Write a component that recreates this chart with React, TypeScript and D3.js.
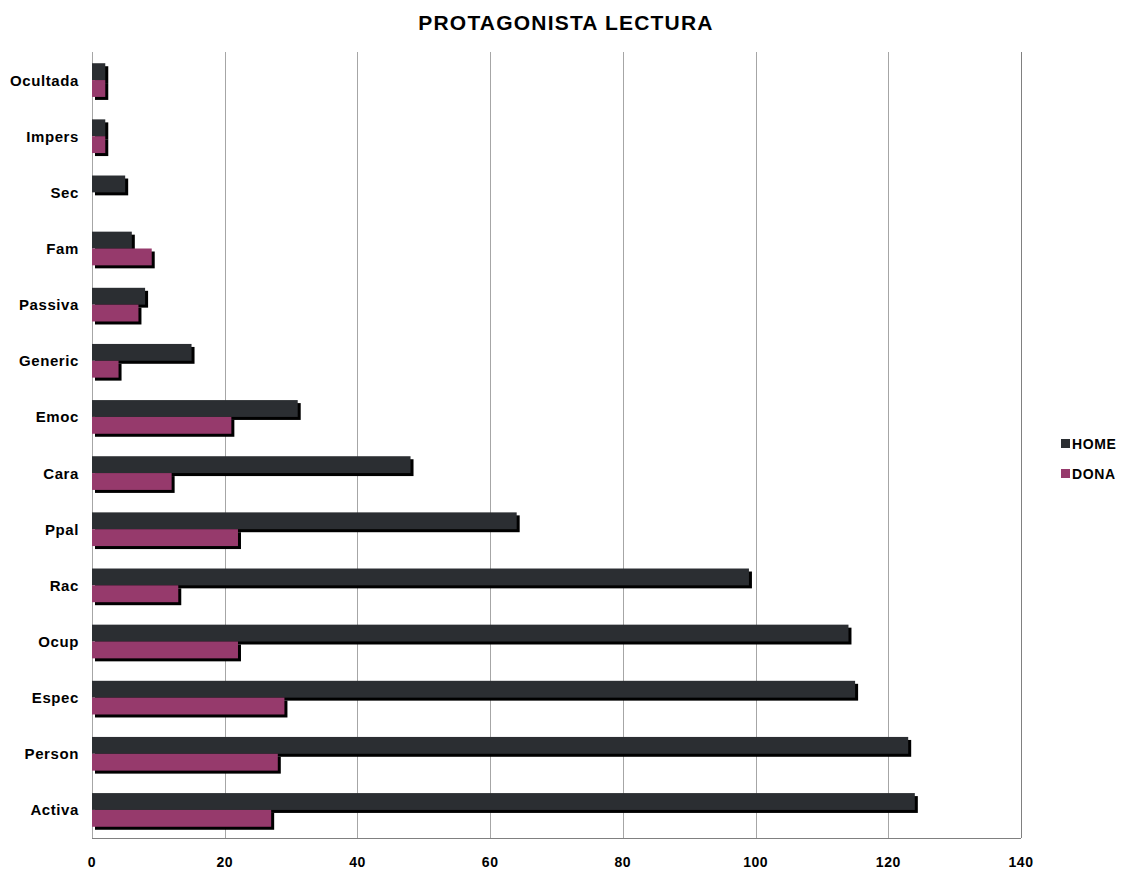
import React from "react";
import * as d3 from "d3";

const categories = ["Ocultada", "Impers", "Sec", "Fam", "Passiva", "Generic", "Emoc", "Cara", "Ppal", "Rac", "Ocup", "Espec", "Person", "Activa"];
const homeValues = [2, 2, 5, 6, 8, 15, 31, 48, 64, 99, 114, 115, 123, 124];
const donaValues = [2, 2, 0, 9, 7, 4, 21, 12, 22, 13, 22, 29, 28, 27];
const xTicks = [0, 20, 40, 60, 80, 100, 120, 140];
const seriesNames = ["HOME", "DONA"];
const seriesColors = ["#2b2e32", "#963a6c"];

const W = 1124;
const H = 871;
const left = 92;
const right = 1021;
const top = 52;
const bottom = 838;
const font = "'Liberation Sans', Arial, sans-serif";

export default function App() {
  const x = d3.scaleLinear().domain([0, 140]).range([left, right]);
  const y = d3.scaleBand().domain(categories).range([top, bottom]).paddingInner(0).paddingOuter(0);
  const bw = y.bandwidth();
  const barH = bw * 0.3;
  const sub = d3.scaleBand().domain(seriesNames).range([0, barH * 2]);
  const series = [homeValues, donaValues];
  const off = 3;

  return (
    <svg width={W} height={H} style={{ position: "absolute", left: 0, top: 0, background: "#fff" }}>
      <text x={566} y={30} textAnchor="middle" fontFamily={font} fontWeight="bold" fontSize={21} letterSpacing={1.2} fill="#000">
        PROTAGONISTA LECTURA
      </text>
      {xTicks.slice(1).map((t) => (
        <line key={t} x1={Math.round(x(t)) + 0.5} x2={Math.round(x(t)) + 0.5} y1={top} y2={bottom} stroke={t === 140 ? "#808080" : "#a6a6a6"} strokeWidth={1} />
      ))}
      <line x1={left} x2={right} y1={bottom + 0.5} y2={bottom + 0.5} stroke="#808080" />
      <line x1={left + 0.5} x2={left + 0.5} y1={top} y2={bottom} stroke="#a6a6a6" />
      {categories.map((c, i) => {
        const c0 = (y(c) as number) + bw / 2 - barH;
        return (
          <g key={c}>
            {series.map((vals, s) => {
              const yy = c0 + (sub(seriesNames[s]) as number);
              const w = x(vals[i]) - x(0);
              if (vals[i] <= 0) return null;
              return (
                <g key={s}>
                  <rect x={x(0) + off} y={yy + off} width={w} height={barH} fill="#000" />
                  <rect x={x(0)} y={yy} width={w} height={barH} fill={seriesColors[s]} />
                </g>
              );
            })}
            <text x={79} y={(y(c) as number) + bw / 2 + 5.5} textAnchor="end" fontFamily={font} fontWeight="bold" fontSize={15} letterSpacing={0.6} fill="#000">
              {c}
            </text>
          </g>
        );
      })}
      {xTicks.map((t) => (
        <text key={t} x={x(t)} y={867} textAnchor="middle" fontFamily={font} fontWeight="bold" fontSize={14} letterSpacing={0.5} fill="#000">
          {t}
        </text>
      ))}
      {seriesNames.map((n, i) => (
        <g key={n}>
          <rect x={1061} y={439 + i * 30} width={9} height={9} fill={seriesColors[i]} />
          <text x={1072} y={449 + i * 30} fontFamily={font} fontWeight="bold" fontSize={14} letterSpacing={0.6} fill="#000">
            {n}
          </text>
        </g>
      ))}
    </svg>
  );
}
